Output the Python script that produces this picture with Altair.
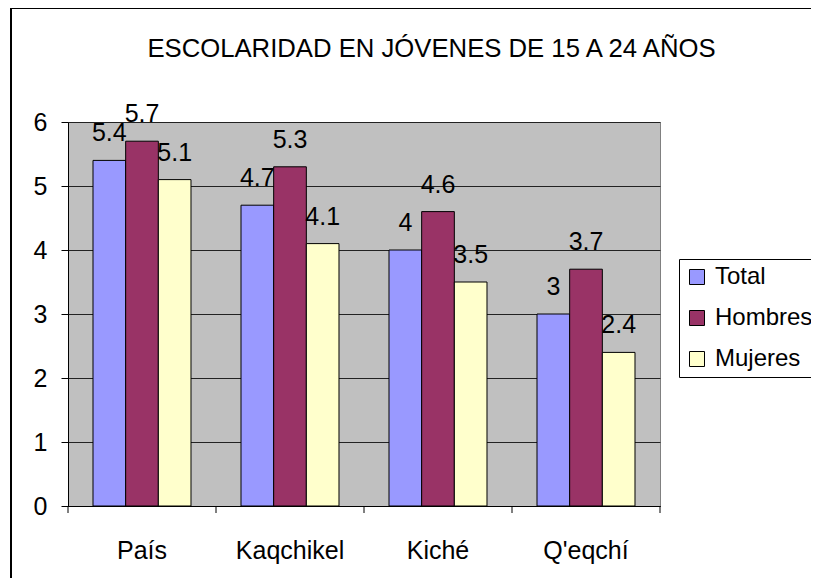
import altair as alt
import pandas as pd

regions = ["País", "Kaqchikel", "Kiché", "Q'eqchí"]
series = ["Total", "Hombres", "Mujeres"]
total = [5.4, 4.7, 4, 3]
hombres = [5.7, 5.3, 4.6, 3.7]
mujeres = [5.1, 4.1, 3.5, 2.4]
colors = ["#9999FF", "#993366", "#FFFFCC"]
title_text = "ESCOLARIDAD EN JÓVENES DE 15 A 24 AÑOS"
y_ticks = [0, 1, 2, 3, 4, 5, 6]

FONT = "Liberation Sans"

rows = []
for s, vals in zip(series, [total, hombres, mujeres]):
    for r, v in zip(regions, vals):
        rows.append({"Region": r, "Serie": s, "Valor": v})
df = pd.DataFrame(rows)

x_enc = alt.X(
    "Region:N",
    sort=regions,
    scale=alt.Scale(paddingInner=0.338, paddingOuter=0.169),
    axis=alt.Axis(
        title=None, labelAngle=0, ticks=False,
        labelPadding=32, labelFontSize=25, labelFont=FONT, labelColor="black",
        domainColor="black", grid=False,
    ),
)
xo_enc = alt.XOffset("Serie:N", sort=series, scale=alt.Scale(paddingInner=0, paddingOuter=0))
y_enc = alt.Y(
    "Valor:Q",
    scale=alt.Scale(domain=[0, 6], nice=False),
    axis=alt.Axis(
        title=None, values=y_ticks, grid=True, gridColor="#222222", tickSize=7,
        labelPadding=14, labelFontSize=25, labelFont=FONT, labelColor="black",
        domainColor="black", tickColor="black",
    ),
)

base = alt.Chart(df)

bars = base.mark_bar(stroke="black", strokeWidth=1).encode(
    x=x_enc,
    xOffset=xo_enc,
    y=y_enc,
    color=alt.Color(
        "Serie:N",
        sort=series,
        scale=alt.Scale(domain=series, range=colors),
        legend=alt.Legend(
            orient="none", legendX=611, legendY=137, title=None,
            symbolType="square", symbolSize=225, symbolStrokeColor="black",
            symbolStrokeWidth=1, symbolOpacity=1,
            labelFontSize=24, labelFont=FONT, labelColor="black",
            padding=6, rowPadding=17, labelOffset=6,
            strokeColor="black", fillColor="white", cornerRadius=0,
        ),
    ),
)

labels = base.mark_text(
    baseline="alphabetic", align="center", dy=-19, fontSize=25, font=FONT, color="black"
).encode(
    x=x_enc,
    xOffset=xo_enc,
    y=y_enc,
    text=alt.Text("Valor:Q", format=".1~f"),
)

# category boundary ticks (Excel style: ticks between categories)
edges = pd.DataFrame({"edge": list(range(len(regions) + 1))})
xticks = alt.Chart(edges).mark_rule(color="black", strokeWidth=1).encode(
    x=alt.X("edge:Q", scale=alt.Scale(domain=[0, len(regions)], nice=False, zero=False), axis=None),
    y=alt.value(384),
    y2=alt.value(391),
)

title = alt.Chart(pd.DataFrame({"t": [title_text]})).mark_text(
    baseline="alphabetic", align="center", fontSize=25.7, font=FONT, color="black"
).encode(
    x=alt.value(363.5), y=alt.value(-65), text="t:N"
)

border = alt.Chart(pd.DataFrame({"k": [0]})).mark_rect(
    fillOpacity=0, stroke="black", strokeWidth=2
).encode(
    x=alt.value(-57), x2=alt.value(900), y=alt.value(-114), y2=alt.value(600)
)

chart = alt.layer(
    alt.layer(bars, labels), xticks, title, border
).resolve_scale(x="independent").properties(
    width=592,
    height=384,
    autosize=alt.AutoSizeParams(type="none"),
    padding={"left": 60, "top": 114, "right": 151, "bottom": 72},
    background="white",
).configure_view(
    fill="#c0c0c0", stroke="#808080", strokeWidth=1
)

chart.save("out.html", embed_options={"renderer": "svg", "actions": False})
